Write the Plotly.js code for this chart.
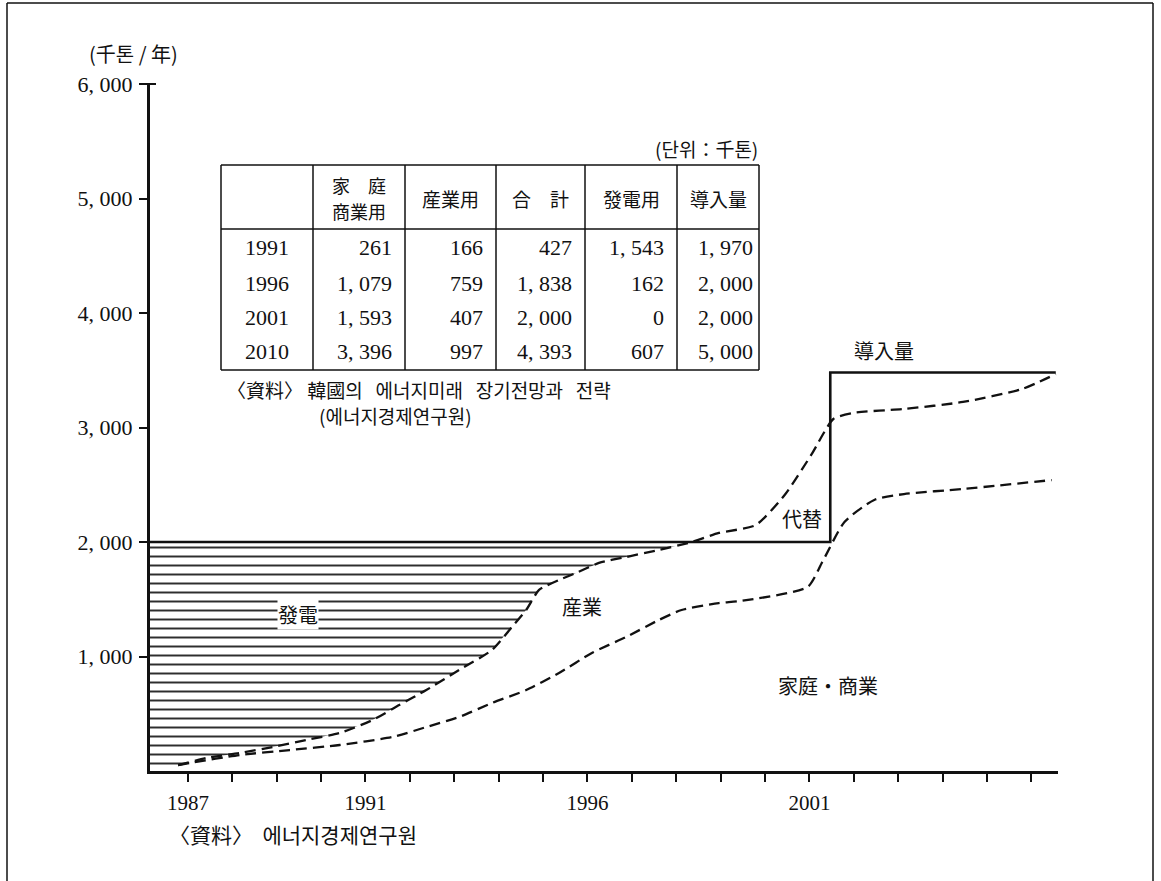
<!DOCTYPE html>
<html>
<head>
<meta charset="utf-8">
<script src="https://cdn.plot.ly/plotly-3.0.1.min.js"></script>
<style>
  html, body { margin:0; padding:0; background:#fff; }
  #chart { width:1161px; height:881px; }
</style>
</head>
<body>
<div id="chart"></div>
<script>
// ---------- data ----------
// total demand curve (boundary 發電 / 産業), thousand tons per year
const totalYears = [1986.78, 1987.43, 1988.17, 1988.91, 1989.67, 1990.42, 1991.16, 1991.76, 1992.37, 1993.11,
                    1993.85, 1994.30, 1994.62, 1994.91, 1995.36, 1995.74, 1996.26, 1996.87, 1997.61, 1998.35,
                    1998.96, 1999.79, 2000.46, 2001.04, 2001.54, 2001.97, 2003.13, 2004.46, 2005.79, 2006.55];
const totalValues = [52, 114, 157, 210, 271, 332, 445, 576, 707, 882,
                     1057, 1258, 1406, 1581, 1668, 1729, 1817, 1869, 1930, 2000,
                     2079, 2148, 2419, 2760, 3074, 3127, 3162, 3223, 3336, 3467];
// household / commercial curve
const homeYears = [1986.78, 1987.04, 1988.17, 1989.29, 1990.42, 1991.61, 1992.37, 1993.11, 1993.85, 1994.62,
                   1995.36, 1996.10, 1996.87, 1997.61, 1998.12, 1998.96, 1999.45, 2000.96, 2001.29, 2001.79,
                   2002.46, 2003.13, 2004.46, 2006.46];
const homeValues = [52, 70, 140, 183, 227, 297, 384, 472, 594, 707,
                    856, 1031, 1170, 1319, 1406, 1467, 1485, 1607, 1825, 2175,
                    2367, 2419, 2463, 2541];
// import volume (導入量) step line
const supplyYears = [1986.146, 2001.47, 2001.47, 2006.55];
const supplyValues = [2000, 2000, 3480, 3480];

// axis ticks
const xTickYears = [1987,1988,1989,1990,1991,1992,1993,1994,1995,1996,1997,1998,1999,2000,2001,2002,2003,2004,2005,2006];
const xTickLabels = ['1987','','','','1991','','','','','1996','','','','','2001','','','','',''];
const yTickVals = [1000, 2000, 3000, 4000, 5000, 6000];

// inset table
const tableHeaders = [['家　庭', '商業用'], ['産業用'], ['合　計'], ['發電用'], ['導入量']];
const tableYears = ['1991', '1996', '2001', '2010'];
const tableHome = [261, 1079, 1593, 3396];
const tableIndustry = [166, 759, 407, 997];
const tableTotal = [427, 1838, 2000, 4393];
const tablePower = [1543, 162, 0, 607];
const tableImport = [1970, 2000, 2000, 5000];

// ---------- helpers ----------
const X0 = 1986.146, X1 = 2006.6;
const PL = 150, PR = 1058, PT = 84, PB = 771;
const px = x => (x - PL) / (PR - PL);
const py = y => (PB - y) / (PB - PT);
const fmt = v => v >= 1000 ? Math.floor(v / 1000) + ', ' + String(v % 1000).padStart(3, '0') : String(v);

const SERIF = '"Liberation Serif", "DejaVu Serif", serif';
const CJK = '"Noto Sans CJK KR", "Noto Sans CJK JP", sans-serif';
const INK = '#111';
const NB = '\u00a0';

// hatched 發電 region: between the 2000 line and the total curve
const crossIdx = totalValues.findIndex(v => v >= 2000);
const hatchX = [X0].concat(totalYears.slice(0, crossIdx + 1)).concat([X0]);
const hatchY = [0].concat(totalValues.slice(0, crossIdx + 1)).concat([2000]);

const traces = [
  { x: hatchX, y: hatchY, type: 'scatter', mode: 'lines', fill: 'toself',
    line: { width: 0, color: 'rgba(0,0,0,0)' }, fillcolor: 'white',
    fillpattern: { shape: '-', size: 9, solidity: 0.22, fgcolor: '#2e2e2e', bgcolor: 'white' },
    hoverinfo: 'skip', showlegend: false },
  { x: homeYears, y: homeValues, type: 'scatter', mode: 'lines',
    line: { color: INK, width: 2.3, dash: '11px,6px', shape: 'spline', smoothing: 0.6 }, showlegend: false },
  { x: totalYears, y: totalValues, type: 'scatter', mode: 'lines',
    line: { color: INK, width: 2.3, dash: '11px,6px', shape: 'spline', smoothing: 0.6 }, showlegend: false },
  { x: supplyYears, y: supplyValues, type: 'scatter', mode: 'lines',
    line: { color: INK, width: 2.6 }, showlegend: false }
];

// ---------- annotations ----------
const ann = [];
function txt(text, x, y, opts) {
  ann.push(Object.assign({ text: text, x: px(x), y: py(y), xref: 'paper', yref: 'paper',
    showarrow: false, xanchor: 'center', yanchor: 'middle', borderpad: 0,
    font: { family: CJK, size: 20, color: INK } }, opts || {}));
}
// chart labels
txt('(千톤' + NB + '/' + NB + '年)', 88, 53, { xanchor: 'left', font: { family: CJK, size: 20, color: INK } });
txt('導入量', 884, 350);
txt('代替', 802, 518);
txt('産業', 582, 606);
txt('發電', 298, 614, { bgcolor: 'white' });
txt('家庭・商業', 828, 685);
txt('〈資料〉' + NB + NB + '에너지경제연구원', 168, 834, { xanchor: 'left', font: { family: CJK, size: 21, color: INK } });

// table text
const colEdges = [221, 313, 405, 496, 585, 677, 759];
const rowY = [248, 283, 317, 351];
txt('(단위：千톤)', 759, 148, { xanchor: 'right', font: { family: CJK, size: 19, color: INK } });
tableHeaders.forEach((lines, i) => {
  const cx = (colEdges[i + 1] + colEdges[i + 2]) / 2;
  if (lines.length === 2) {
    txt(lines[0], cx, 185, { font: { family: CJK, size: 18, color: INK } });
    txt(lines[1], cx, 211, { font: { family: CJK, size: 18, color: INK } });
  } else {
    txt(lines[0], cx, 198, { font: { family: CJK, size: 19, color: INK } });
  }
});
const cols = [tableHome, tableIndustry, tableTotal, tablePower, tableImport];
tableYears.forEach((yr, r) => {
  txt(yr, (colEdges[0] + colEdges[1]) / 2, rowY[r], { font: { family: SERIF, size: 22, color: INK } });
  cols.forEach((col, c) => {
    const right = c === 4 ? colEdges[c + 2] - 5 : colEdges[c + 2] - 12;
    txt(fmt(col[r]), right, rowY[r], { xanchor: 'right', font: { family: SERIF, size: 22, color: INK } });
  });
});
const GAP = NB + NB + NB;
txt('〈資料〉' + NB + '韓國의' + GAP + '에너지미래' + GAP + '장기전망과' + GAP + '전략', 226, 389,
    { xanchor: 'left', font: { family: CJK, size: 19, color: INK } });
txt('(에너지경제연구원)', 318, 415,
    { xanchor: 'left', font: { family: CJK, size: 19, color: INK } });

// ---------- shapes (table grid, frame) ----------
const shapes = [];
function seg(x0, y0, x1, y1, w) {
  shapes.push({ type: 'line', xref: 'paper', yref: 'paper', x0: px(x0), y0: py(y0), x1: px(x1), y1: py(y1),
    line: { color: INK, width: w || 1.5 } });
}
seg(221, 165, 759, 165); seg(221, 370, 759, 370);
seg(221, 165, 221, 370); seg(759, 165, 759, 370);
seg(221, 229, 759, 229);
colEdges.slice(1, 6).forEach(x => seg(x, 165, x, 370));
// small cross-bar at the top of the y axis
seg(144, 84, 156, 84, 2);
// outer frame of the figure
seg(7, 3, 1153, 3, 1.5);
seg(7, 3, 7, 881, 1.5);
seg(1153, 3, 1153, 881, 1.5);

const layout = {
  width: 1161, height: 881,
  margin: { l: PL, r: 1161 - PR, t: PT, b: 881 - PB },
  paper_bgcolor: 'white', plot_bgcolor: 'white',
  showlegend: false,
  xaxis: {
    range: [X0, X1], showgrid: false, zeroline: false,
    showline: true, linecolor: INK, linewidth: 3,
    tickmode: 'array', tickvals: xTickYears, ticktext: xTickLabels,
    ticks: 'outside', ticklen: 8, tickwidth: 2, tickcolor: INK,
    ticklabelstandoff: 3,
    tickfont: { family: SERIF, size: 21, color: INK }
  },
  yaxis: {
    range: [0, 6000], showgrid: false, zeroline: false,
    showline: true, linecolor: INK, linewidth: 3,
    tickmode: 'array', tickvals: yTickVals, ticktext: yTickVals.map(fmt),
    ticks: 'outside', ticklen: 8, tickwidth: 2, tickcolor: INK,
    ticklabelstandoff: 2,
    tickfont: { family: SERIF, size: 22, color: INK }
  },
  annotations: ann,
  shapes: shapes
};

Plotly.newPlot('chart', traces, layout, { staticPlot: true, displayModeBar: false });
</script>
</body>
</html>
